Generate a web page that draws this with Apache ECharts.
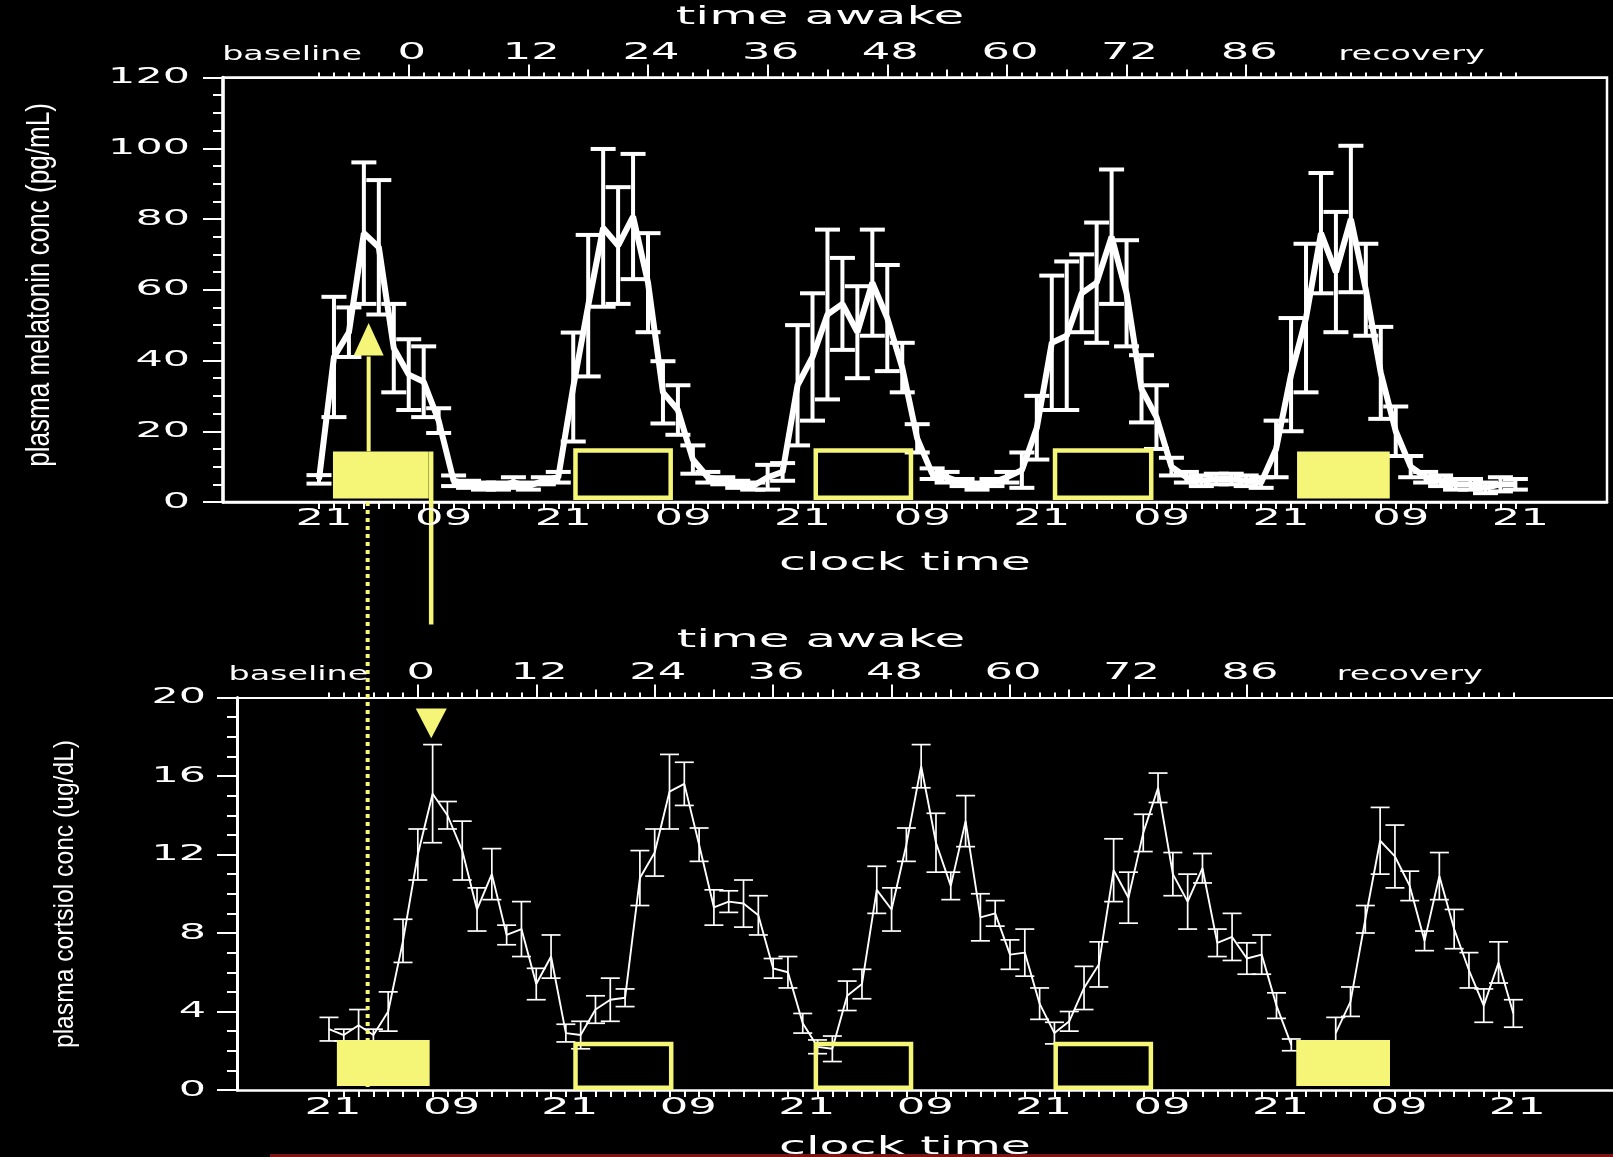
<!DOCTYPE html>
<html>
<head>
<meta charset="utf-8">
<title>plasma melatonin and cortisol</title>
<script src="https://cdn.jsdelivr.net/npm/echarts@6.0.0/dist/echarts.min.js"></script>
<style>
html,body{margin:0;padding:0;background:#000;overflow:hidden;}
#chart{width:1613px;height:1157px;}
</style>
</head>
<body>
<div id="chart"></div>
<script>
// ---------------- data (hours after 21:00 on the baseline evening) ----------------
const sampleHours = [0,1.5,3,4.5,6,7.5,9,10.5,12,13.5,15,16.5,18,19.5,21,22.5,24,25.5,27,28.5,30,31.5,33,34.5,36,37.5,39,40.5,42,43.5,45,46.5,48,49.5,51,52.5,54,55.5,57,58.5,60,61.5,63,64.5,66,67.5,69,70.5,72,73.5,75,76.5,78,79.5,81,82.5,84,85.5,87,88.5,90,91.5,93,94.5,96,97.5,99,100.5,102,103.5,105,106.5,108,109.5,111,112.5,114,115.5,117,118.5,120];
const melatonin = [6.4,41,48,76,72,43.5,36,34,23,6,
  5,4.5,4.5,5.5,4.5,6,7,32.5,55.5,77.5,
  72.5,80.7,62,31,26,12,7,6,5,4.5,
  7,8.5,33,41,53,56,48,62,52,38,
  18,8,7,5.5,4.5,5.5,7,9,21,45,
  47,59,62,75,59,32,24,10,7,6,
  6.5,6.5,6,5.5,15,36,52,76,65,80,
  60,36.5,20,10,7,6,5,5,4,5,
  5];
const melatoninSem = [1.2,17,7,20,19,12.5,10,10,3.5,1.5,
  1,1,1,1.5,1,1,1.5,15.4,20,22.3,
  16.5,17.7,14,8.8,7,4,1.5,1,1,1,
  3.5,2.5,17,18,24,13,13,15,15,7,
  4,1.5,1.5,1,1,1,1.5,5,9,19,
  21,11,17,19,15,9.5,9,2.5,1.5,1.5,
  1.5,1.5,1.5,1.5,8,16,21,17,17,20.7,
  13,13,7,3,1.5,1.5,1.5,1.5,1.5,2,
  1.5];
const cortisol = [3.1,2.8,3.3,2.8,4.0,7.6,12.0,15.1,14.0,12.2,
  9.2,11.0,7.9,8.2,5.4,6.8,2.9,2.8,4.1,4.6,
  4.7,10.8,12.1,15.2,15.6,12.5,9.3,9.6,9.5,8.9,
  6.2,6.0,3.4,2.2,2.1,4.8,5.4,10.2,9.2,12.5,
  16.5,12.6,10.4,13.7,8.8,9.0,6.9,7.0,4.4,2.9,
  3.5,5.2,6.4,11.2,9.8,13.1,15.4,11.0,9.6,11.3,
  7.5,7.8,6.7,6.9,4.3,2.3,null,null,2.9,4.5,
  8.7,12.7,11.9,10.4,7.6,10.9,8.2,6.1,4.3,6.5,
  3.9];
const cortisolSem = [0.6,0.3,0.8,0.3,1.0,1.1,1.3,2.5,0.7,1.5,
  1.1,1.3,0.5,1.4,0.8,1.1,0.45,0.7,0.7,1.1,
  0.45,1.4,1.2,1.9,1.1,0.85,0.9,0.55,1.2,1.0,
  0.5,0.8,0.5,0.35,0.65,0.75,0.75,1.2,1.1,0.85,
  1.1,1.5,0.7,1.3,1.2,0.65,0.75,1.2,0.8,0.55,
  0.5,1.1,1.15,1.6,1.3,0.95,0.75,1.1,1.4,0.75,
  0.7,1.2,0.8,1.0,0.65,0.3,null,null,0.8,0.75,
  0.7,1.7,1.6,0.75,0.5,1.2,1.0,0.9,0.85,1.05,
  0.7];

const clockTickHours = [0,12,24,36,48,60,72,84,96,108,120];
const clockTickLabels = ['21','09','21','09','21','09','21','09','21','09','21'];
const awakeTickHours = [9,21,33,45,57,69,81,93];
const awakeTickLabels = ['0','12','24','36','48','60','72','86'];
const awakeMidHours = [15,27,39,51,63,75,87];
const phaseLabels = ['baseline','recovery'];
const phaseHoursTop = [-2.7,109.6];
const phaseHoursBottom = [-3.1,109.5];
const melatoninTicks = [0,20,40,60,80,100,120];
const cortisolTicks = [0,4,8,12,16,20];
const sleepStartTop = [1.4,25.5,49.6,73.6,98.1];
const sleepEndTop = [11.0,35.5,59.6,83.7,107.4];
const sleepStartBottom = [0.8,24.75,49.1,73.4,98.0];
const sleepEndBottom = [10.2,34.9,59.2,83.5,107.5];
const sleepFilled = [true,false,false,false,true];

// ---------------- layout / style ----------------
const W = 1613, H = 1157;
const WHITE = '#ffffff', YEL = '#f5f578';
const FONT_WIDE = 'DejaVu Sans', FONT_NARROW = 'Liberation Sans';
const topGrid = {left:223, top:77.5, width:1384, height:424.5};
const botGrid = {left:237, top:697.5, width:1388, height:392.5};
const topX = {min:-9.63, max:129.19};
const botX = {min:-9.32, max:131.31};

const chart = echarts.init(document.getElementById('chart'), null, {width:W, height:H, renderer:'canvas'});

function clockAxis(gi, X) {
  return {type:'value', gridIndex:gi, position:'bottom', min:X.min, max:X.max,
    axisLine:{show:true, onZero:false, lineStyle:{color:WHITE, width:2.5}},
    axisTick:{show:true, inside:false, customValues:sampleHours, length:7, lineStyle:{color:WHITE, width:2}},
    axisLabel:{show:false, customValues:sampleHours},
    splitLine:{show:false}, minorTick:{show:false}};
}
function awakeAxis(gi, X, vals, len, line) {
  return {type:'value', gridIndex:gi, position:'top', offset:0, min:X.min, max:X.max,
    axisLine:{show:line, onZero:false, lineStyle:{color:WHITE, width:2}},
    axisTick:{show:true, inside:false, customValues:vals, length:len, lineStyle:{color:WHITE, width:2}},
    axisLabel:{show:false, customValues:vals},
    splitLine:{show:false}, minorTick:{show:false}};
}
function valueAxis(gi, max, interval, lw) {
  return {type:'value', gridIndex:gi, position:'left', min:0, max:max, interval:interval,
    axisLine:{show:true, onZero:false, lineStyle:{color:WHITE, width:lw}},
    axisTick:{show:true, inside:false, length:20, lineStyle:{color:WHITE, width:2}},
    minorTick:{show:true, splitNumber:4, length:10, lineStyle:{color:WHITE, width:2}},
    axisLabel:{show:false}, splitLine:{show:false}, minorSplitLine:{show:false}};
}
function errorBars(cap, lw) {
  return function (params, api) {
    const x = api.value(0), lo = api.value(1), hi = api.value(2);
    if (isNaN(lo) || isNaN(hi)) return null;
    const a = api.coord([x, lo]), b = api.coord([x, hi]);
    const st = {stroke:WHITE, lineWidth:lw};
    return {type:'group', children:[
      {type:'line', shape:{x1:a[0], y1:a[1], x2:b[0], y2:b[1]}, style:st},
      {type:'line', shape:{x1:a[0]-cap/2, y1:a[1], x2:a[0]+cap/2, y2:a[1]}, style:st},
      {type:'line', shape:{x1:b[0]-cap/2, y1:b[1], x2:b[0]+cap/2, y2:b[1]}, style:st}
    ]};
  };
}

const option = {
  backgroundColor:'#000000',
  animation:false,
  grid:[
    Object.assign({show:true, borderColor:WHITE, borderWidth:2.5, backgroundColor:'transparent', outerBoundsMode:'none'}, topGrid),
    Object.assign({show:false, outerBoundsMode:'none'}, botGrid)
  ],
  xAxis:[
    clockAxis(0, topX), awakeAxis(0, topX, sampleHours, 5, true), awakeAxis(0, topX, awakeMidHours, 8, false), awakeAxis(0, topX, awakeTickHours, 13, false),
    clockAxis(1, botX), awakeAxis(1, botX, sampleHours, 5, true), awakeAxis(1, botX, awakeMidHours, 8, false), awakeAxis(1, botX, awakeTickHours, 13, false)
  ],
  yAxis:[valueAxis(0, 120, 20, 3.5), valueAxis(1, 20, 4, 3)],
  series:[
    {type:'line', name:'melatonin', xAxisIndex:0, yAxisIndex:0, silent:true, z:3,
      data:sampleHours.map((t,i)=>[t, melatonin[i]]), symbol:'none', showSymbol:false,
      lineStyle:{color:WHITE, width:6}, itemStyle:{color:WHITE}},
    {type:'custom', name:'melatonin sem', xAxisIndex:0, yAxisIndex:0, silent:true, z:4,
      encode:{x:0, y:[1,2]},
      data:sampleHours.map((t,i)=>[t, melatonin[i]-melatoninSem[i], melatonin[i]+melatoninSem[i]]),
      renderItem:errorBars(25, 4)},
    {type:'line', name:'cortisol', xAxisIndex:4, yAxisIndex:1, silent:true, z:3,
      data:sampleHours.map((t,i)=>[t, cortisol[i]]), symbol:'none', showSymbol:false, connectNulls:false,
      lineStyle:{color:WHITE, width:1.9}, itemStyle:{color:WHITE}},
    {type:'custom', name:'cortisol sem', xAxisIndex:4, yAxisIndex:1, silent:true, z:4,
      encode:{x:0, y:[1,2]},
      data:sampleHours.map((t,i)=>cortisol[i]==null ? null : [t, cortisol[i]-cortisolSem[i], cortisol[i]+cortisolSem[i]]).filter(d=>d),
      renderItem:errorBars(19, 1.7)}
  ]
};
chart.setOption(option);

// ---------------- annotations and text, positioned through the chart's own scales ----------------
const P1 = (t,v) => chart.convertToPixel({seriesIndex:0}, [t, v]);
const P2 = (t,v) => chart.convertToPixel({seriesIndex:2}, [t, v]);
const g = [];
function addText(text, x, y, o) {
  g.push({type:'text', x:x, y:y, rotation:o.rot||0, scaleX:o.sx||1, scaleY:1, z:60, silent:true,
    style:{text:text, fill:WHITE, fontSize:o.fs, fontFamily:o.ff||FONT_WIDE,
      textAlign:o.al||'center', textVerticalAlign:'middle', align:o.al||'center', verticalAlign:'middle'}});
}
const NUM = {fs:22, sx:1.95};

// y tick labels
melatoninTicks.forEach(v => { const p = P1(topX.min, v); addText(String(v), p[0]-33, p[1], Object.assign({al:'right'}, NUM)); });
cortisolTicks.forEach(v => { const p = P2(botX.min, v); addText(String(v), p[0]-31, p[1], Object.assign({al:'right'}, NUM)); });
// clock labels
clockTickHours.forEach((t,i) => { const p = P1(t, 0); addText(clockTickLabels[i], p[0]+5, p[1]+17.5, {fs:23, sx:1.95}); });
clockTickHours.forEach((t,i) => { const p = P2(t, 0); addText(clockTickLabels[i], p[0]+4, p[1]+18, {fs:23, sx:1.95}); });
// time awake labels
awakeTickHours.forEach((t,i) => { const p = P1(t, 120); addText(awakeTickLabels[i], p[0]+3, p[1]-24, {fs:23, sx:1.95}); });
awakeTickHours.forEach((t,i) => { const p = P2(t, 20); addText(awakeTickLabels[i], p[0]+3, p[1]-24, {fs:23, sx:1.95}); });
phaseLabels.forEach((s,i) => { const p = P1(phaseHoursTop[i], 120); addText(s, p[0], p[1]-23, {fs:20, sx:1.67}); });
phaseLabels.forEach((s,i) => { const p = P2(phaseHoursBottom[i], 20); addText(s, p[0], p[1]-23, {fs:20, sx:1.67}); });
// axis titles
addText('time awake', 820, 17.5, {fs:24, sx:2.08});
addText('clock time', 905, 564, {fs:24, sx:2.04});
addText('time awake', 821, 641, {fs:24, sx:2.08});
addText('clock time', 905, 1148, {fs:24, sx:2.04});
addText('plasma melatonin conc (pg/mL)', 40, 285, {fs:33, sx:0.79, rot:Math.PI/2, ff:FONT_NARROW});
addText('plasma cortsiol conc (ug/dL)', 65, 894, {fs:28, sx:0.88, rot:Math.PI/2, ff:FONT_NARROW});

// sleep boxes
function addBoxes(P, starts, ends, fillLo, fillHi, outLo, outHi) {
  starts.forEach((s,i) => {
    const e = ends[i];
    if (sleepFilled[i]) {
      const a = P(s, fillHi), b = P(e, fillLo);
      g.push({type:'rect', z:40, silent:true, shape:{x:a[0], y:a[1], width:b[0]-a[0], height:b[1]-a[1]}, style:{fill:YEL, stroke:null}});
    } else {
      const a = P(s, outHi), b = P(e, outLo), w = 4.5;
      g.push({type:'rect', z:40, silent:true, shape:{x:a[0]+w/2, y:a[1]+w/2, width:b[0]-a[0]-w, height:b[1]-a[1]-w}, style:{fill:null, stroke:YEL, lineWidth:w}});
    }
  });
}
addBoxes(P1, sleepStartTop, sleepEndTop, 1.0, 14.3, 0.6, 15.2);
addBoxes(P2, sleepStartBottom, sleepEndBottom, 0.2, 2.55, 0.0, 2.46);

// arrow at melatonin onset, dotted guide line, lights-on line, cortisol marker
const arrowT = 4.98, lightsT = 11.25;
const shaftBottom = P1(arrowT, 14.3), headBase = P1(arrowT, 41.4), headTip = P1(arrowT, 50.6);
g.push({type:'line', z:45, silent:true, shape:{x1:shaftBottom[0], y1:shaftBottom[1], x2:headBase[0], y2:headBase[1]+1}, style:{stroke:YEL, lineWidth:4}});
g.push({type:'polygon', z:45, silent:true, shape:{points:[[headBase[0]-15, headBase[1]], [headBase[0]+15, headBase[1]], [headTip[0], headTip[1]]]}, style:{fill:YEL}});
const dotTop = P1(arrowT, 0), dotBottom = P2(0, 0.15);
g.push({type:'line', z:45, silent:true, shape:{x1:dotTop[0]-1, y1:dotTop[1], x2:dotTop[0]-1, y2:dotBottom[1]}, style:{stroke:YEL, lineWidth:4, lineDash:[4,4]}});
const lightsTop = P1(lightsT, 14.3), lightsBottom = P1(lightsT, -34.6);
g.push({type:'line', z:45, silent:true, shape:{x1:lightsTop[0], y1:lightsTop[1], x2:lightsBottom[0], y2:lightsBottom[1]}, style:{stroke:YEL, lineWidth:4.5}});
const triA = P2(10.36, 19.44), triTip = P2(10.36, 17.92);
g.push({type:'polygon', z:45, silent:true, shape:{points:[[triA[0]-15.5, triA[1]], [triA[0]+15.5, triA[1]], [triTip[0], triTip[1]]]}, style:{fill:YEL}});

// thin dark red rule at the slide bottom
g.push({type:'rect', z:70, silent:true, shape:{x:270, y:1154, width:W-270, height:3}, style:{fill:'#7d1414'}});

chart.setOption({graphic:{elements:g}});
</script>
</body>
</html>
